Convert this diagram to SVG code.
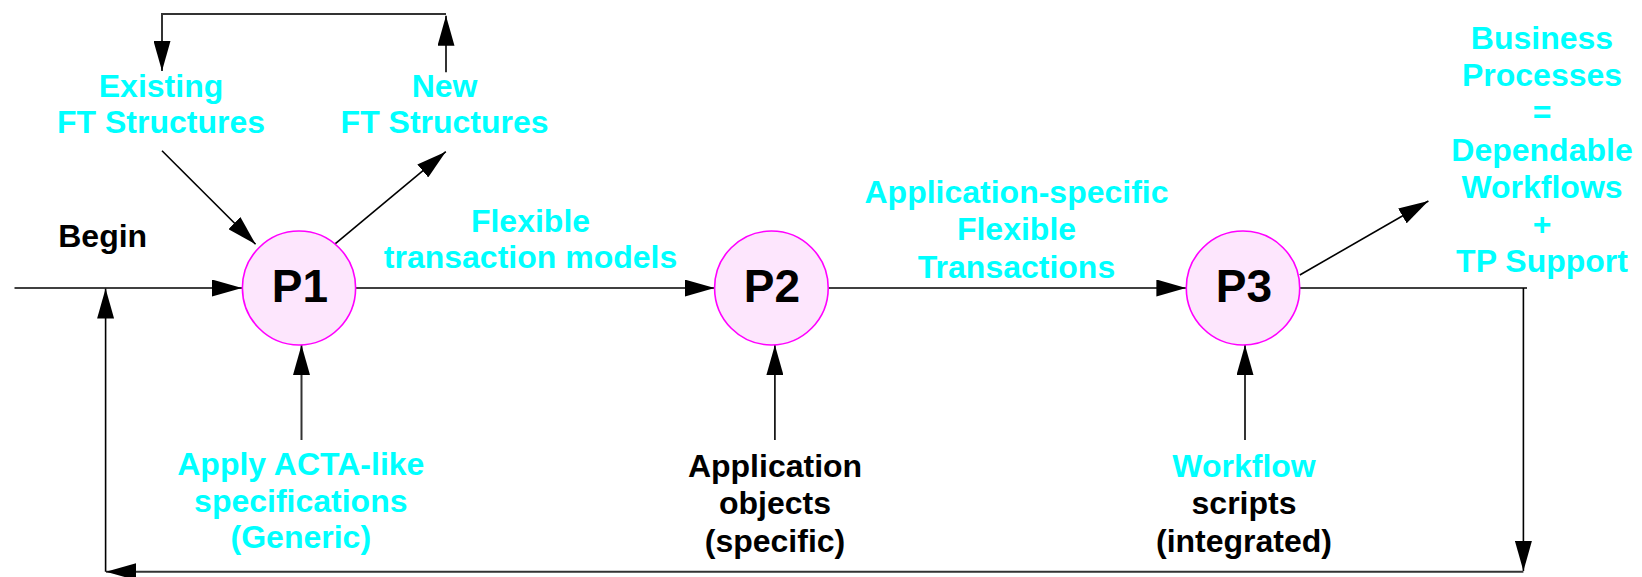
<svg xmlns="http://www.w3.org/2000/svg" width="1642" height="577" viewBox="0 0 1642 577">
<style>
.lbl{font-family:"Liberation Sans",Arial,sans-serif;font-weight:bold;font-size:32px;text-anchor:middle}
.cy{fill:#00ffff}
.bk{fill:#000}
.pn{font-family:"Liberation Sans",Arial,sans-serif;font-weight:bold;font-size:46px;text-anchor:middle;fill:#000}
.proc{fill:#fde6fd;stroke:#ff00ff;stroke-width:1.6}
.ln{fill:none;stroke:#000;stroke-width:1.6}
.lg{fill:none;stroke:#333;stroke-width:2}
</style>
<defs>
<marker id="ah" markerUnits="userSpaceOnUse" viewBox="0 0 30 17" refX="30" refY="8.5" markerWidth="30" markerHeight="17" orient="auto">
<path d="M0,0 L30,8.5 L0,17 z" fill="#000"/>
</marker>
</defs>
<rect width="1642" height="577" fill="#fff"/>
<g id="connectors">
<path class="ln" d="M14.5,288 H242" marker-end="url(#ah)"/>
<path class="ln" d="M355,288 H714.6" marker-end="url(#ah)"/>
<path class="ln" d="M828,288 H1186.4" marker-end="url(#ah)"/>
<path class="ln" d="M1300,288 H1527"/>
<path class="ln" d="M1523.4,288 V571" marker-end="url(#ah)"/>
<path class="lg" d="M1523.4,571.7 H106" marker-end="url(#ah)"/>
<path class="ln" d="M105.6,571.7 V288.5" marker-end="url(#ah)"/>
<path class="ln" d="M162,150.7 L255.6,244.3" marker-end="url(#ah)"/>
<path class="ln" d="M333,245.7 L445.8,151.7" marker-end="url(#ah)"/>
<path class="lg" d="M446,72.3 V15.7" marker-end="url(#ah)"/>
<path class="lg" d="M446,14 H162 V71" marker-end="url(#ah)"/>
<path class="ln" d="M1299.8,275 L1428.4,201" marker-end="url(#ah)"/>
<path class="lg" d="M301.5,440 V345" marker-end="url(#ah)"/>
<path class="ln" d="M774.9,440 V345" marker-end="url(#ah)"/>
<path class="ln" d="M1245,440 V345" marker-end="url(#ah)"/>
</g>
<g id="P1">
<ellipse class="proc" cx="299" cy="288" rx="56.6" ry="57"/>
<text class="pn" x="300" y="302">P1</text>
</g>
<g id="P2">
<ellipse class="proc" cx="771.4" cy="288" rx="56.8" ry="57"/>
<text class="pn" x="772" y="302">P2</text>
</g>
<g id="P3">
<ellipse class="proc" cx="1243" cy="288" rx="56.7" ry="57"/>
<text class="pn" x="1244" y="302">P3</text>
</g>
<g id="existing">
<text class="lbl cy" x="161" y="96.7">Existing</text>
<text class="lbl cy" x="161" y="133.3">FT Structures</text>
</g>
<g id="new">
<text class="lbl cy" x="444.6" y="96.7">New</text>
<text class="lbl cy" x="444.6" y="133.3">FT Structures</text>
</g>
<g id="begin">
<text class="lbl bk" x="102.7" y="247">Begin</text>
</g>
<g id="flexible-models">
<text class="lbl cy" x="530.5" y="231.7">Flexible</text>
<text class="lbl cy" x="530.5" y="268.3">transaction models</text>
</g>
<g id="app-specific">
<text class="lbl cy" x="1016.5" y="203.3">Application-specific</text>
<text class="lbl cy" x="1016.5" y="240">Flexible</text>
<text class="lbl cy" x="1016.5" y="277.7">Transactions</text>
</g>
<g id="business">
<text class="lbl cy" x="1542" y="49">Business</text>
<text class="lbl cy" x="1542" y="86.2">Processes</text>
<text class="lbl cy" x="1542" y="123.4">=</text>
<text class="lbl cy" x="1542" y="160.6">Dependable</text>
<text class="lbl cy" x="1542" y="197.8">Workflows</text>
<text class="lbl cy" x="1542" y="235">+</text>
<text class="lbl cy" x="1542" y="272.2">TP Support</text>
</g>
<g id="acta">
<text class="lbl cy" x="300.8" y="475">Apply ACTA-like</text>
<text class="lbl cy" x="300.8" y="511.7">specifications</text>
<text class="lbl cy" x="300.8" y="548.3">(Generic)</text>
</g>
<g id="app-objects">
<text class="lbl bk" x="775" y="476.7">Application</text>
<text class="lbl bk" x="775" y="514.3">objects</text>
<text class="lbl bk" x="775" y="551.7">(specific)</text>
</g>
<g id="workflow">
<text class="lbl cy" x="1244" y="476.7">Workflow</text>
<text class="lbl bk" x="1244" y="514.3">scripts</text>
<text class="lbl bk" x="1244" y="551.7">(integrated)</text>
</g>
</svg>
